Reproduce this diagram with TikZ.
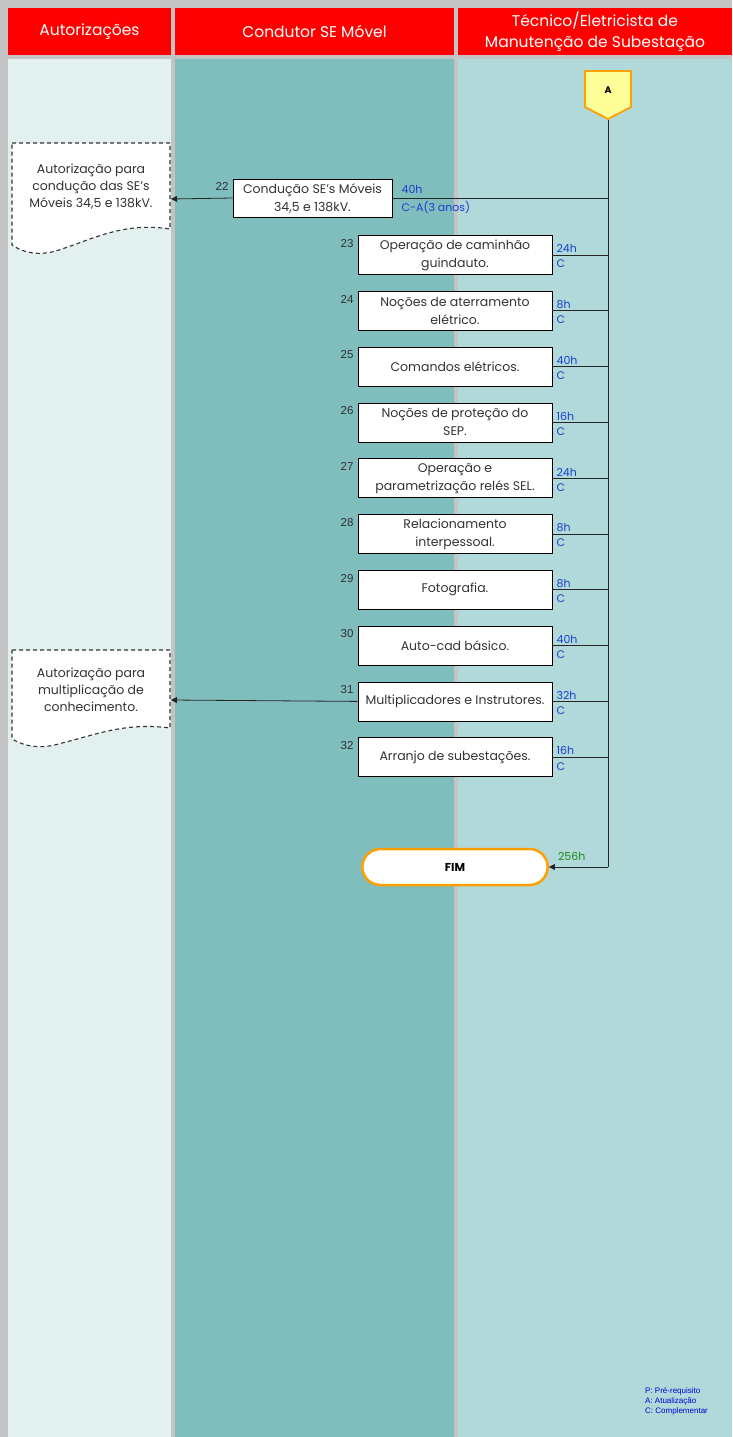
\documentclass[tikz,border=0pt]{standalone}
\usepackage{fontspec}
\setmainfont{Poppins}
\newfontfamily\arialf{Liberation Sans}
\usetikzlibrary{arrows.meta,shapes.misc}
\definecolor{gridgray}{HTML}{C4C4C4}
\definecolor{hdrred}{HTML}{FF0000}
\definecolor{colA}{HTML}{E3F0F0}
\definecolor{colB}{HTML}{80BEBE}
\definecolor{colC}{HTML}{B1D9D9}
\definecolor{hblue}{HTML}{1A3FD0}
\definecolor{fimorange}{HTML}{FFA000}
\definecolor{conyellow}{HTML}{FFFF99}
\definecolor{hgreen}{HTML}{1E8C1E}
\definecolor{numgray}{HTML}{303030}
\tikzset{
  hdr/.style={text=white, font=\fontsize{15.5}{21}\selectfont, align=center},
  task/.style={draw=black, line width=0.8pt, fill=white, minimum width=194pt, minimum height=39pt, align=center, inner sep=1pt, font=\fontsize{12.5}{18}\selectfont, text=black!80},
  num/.style={font=\arialf\fontsize{11.5}{12}\selectfont, text=numgray, anchor=north east, inner sep=1pt},
  hrs/.style={font=\fontsize{11}{12}\selectfont, text=hblue, anchor=west, inner sep=1pt},
  conn/.style={line width=0.8pt, draw=black!85},
  arr/.style={conn, -{Triangle[length=6pt,width=6pt]}},
  docbox/.style={draw=black!80, dash pattern=on 4pt off 3pt, line width=1.1pt, fill=white},
  doctext/.style={font=\fontsize{12.5}{17}\selectfont, align=center, text=black!80},
}
\begin{document}
\begin{tikzpicture}[x=1pt,y=-1pt]
\useasboundingbox (0,0) rectangle (732,1437);
\fill[gridgray] (0,0) rectangle (732,1437);
% header
\fill[hdrred] (8,8) rectangle (171,55);
\fill[hdrred] (175,8) rectangle (454,55);
\fill[hdrred] (458,8) rectangle (732,55);
\node[hdr] (h1) at (89.5,31.5) {Autorizações};
\node[hdr] (h2) at (314.5,31.5) {Condutor SE Móvel};
\node[hdr] (h3) at (595,31.5) {Técnico/Eletricista de\\Manutenção de Subestação};
% body
\fill[colA] (8,59) rectangle (171,1437);
\fill[colB] (175,59) rectangle (454,1437);
\fill[colC] (458,59) rectangle (732,1437);

% connector A
\draw[fill=conyellow, draw=fimorange, line width=1.8pt, line join=round]
  (585,71) -- (631,71) -- (631,107) -- (608,119) -- (585,107) -- cycle;
\node[font=\bfseries\fontsize{9.5}{10}\selectfont] (A) at (608,90) {A};
\coordinate (Abot) at (608,120);
\coordinate (Aend) at (608,867);

% documents
\draw[docbox] (12,143) -- (170,143) -- (170,229)
  .. controls (125,222) and (95,238) .. (62,249)
  .. controls (40,257) and (24,253) .. (12,245) -- cycle;
\node[doctext] (d1) at (91,187) {Autorização para\\condução das SE's\\Móveis 34,5 e 138kV.};
\coordinate (d1in) at (171,199);

\draw[docbox] (12,650) -- (170,650) -- (170,728)
  .. controls (125,722) and (95,735) .. (62,743)
  .. controls (40,750) and (24,746) .. (12,739) -- cycle;
\node[doctext] (d2) at (91,690) {Autorização para\\multiplicação de\\conhecimento.};
\coordinate (d2in) at (171,700);

% main vertical line
\draw[conn] (Abot) -- (Aend);

% task 22
\node[task, minimum width=159pt, minimum height=38pt] (t22) at (312.5,198) {Condução SE's Móveis\\34,5 e 138kV.};
\node[num] at ([xshift=-3pt,yshift=-3pt]t22.north west) {22};
\node[hrs, anchor=south west] at ([xshift=8pt,yshift=3pt]t22.east) {40h};
\node[hrs, anchor=north west] at ([xshift=8pt,yshift=-2pt]t22.east) {C-A(3 anos)};
\coordinate (v22) at (608,198);
\draw[conn] (t22.east) -- (v22);
\draw[arr] (t22.west) -- (d1in);

% tasks 23..32
\foreach \n/\txt/\h [count=\i from 0] in {
  23/{Operação de caminhão\\guindauto.}/24h,
  24/{Noções de aterramento\\elétrico.}/8h,
  25/{Comandos elétricos.}/40h,
  26/{Noções de proteção do\\SEP.}/16h,
  27/{Operação e\\parametrização relés SEL.}/24h,
  28/{Relacionamento\\interpessoal.}/8h,
  29/{Fotografia.}/8h,
  30/{Auto-cad básico.}/40h,
  31/{Multiplicadores e Instrutores.}/32h,
  32/{Arranjo de subestações.}/16h}{
  \pgfmathsetmacro{\yy}{255+55.8*\i}
  \node[task] (t\n) at (455,\yy) {\txt};
  \node[num] at ([xshift=-3pt,yshift=-3pt]t\n.north west) {\n};
  \node[hrs, anchor=south west] at ([xshift=3pt,yshift=1pt]t\n.east) {\h};
  \node[hrs, anchor=north west] at ([xshift=3pt,yshift=-4pt]t\n.east) {C};
  \coordinate (v\n) at (608,\yy);
  \draw[conn] (t\n.east) -- (v\n);
}
\draw[arr] (t31.west) -- (d2in);

% FIM
\node[draw=fimorange, line width=2.5pt, fill=white, rounded rectangle, minimum width=192pt, minimum height=36pt, font=\bfseries\fontsize{11.5}{12}\selectfont] (fim) at (455,867) {FIM};
\draw[arr] (Aend) -- (fim.east);
\node[font=\fontsize{11}{12}\selectfont, text=hgreen, anchor=south west, inner sep=1pt] (hh) at ([xshift=8pt,yshift=5pt]fim.east) {256h};

% legend
\node[font=\arialf\fontsize{8}{10}\selectfont, text=blue!85!black, align=left, anchor=north west, inner sep=0pt] (leg) at (645,1387) {P: Pré-requisito\\A: Atualização\\C: Complementar};
\end{tikzpicture}
\end{document}
